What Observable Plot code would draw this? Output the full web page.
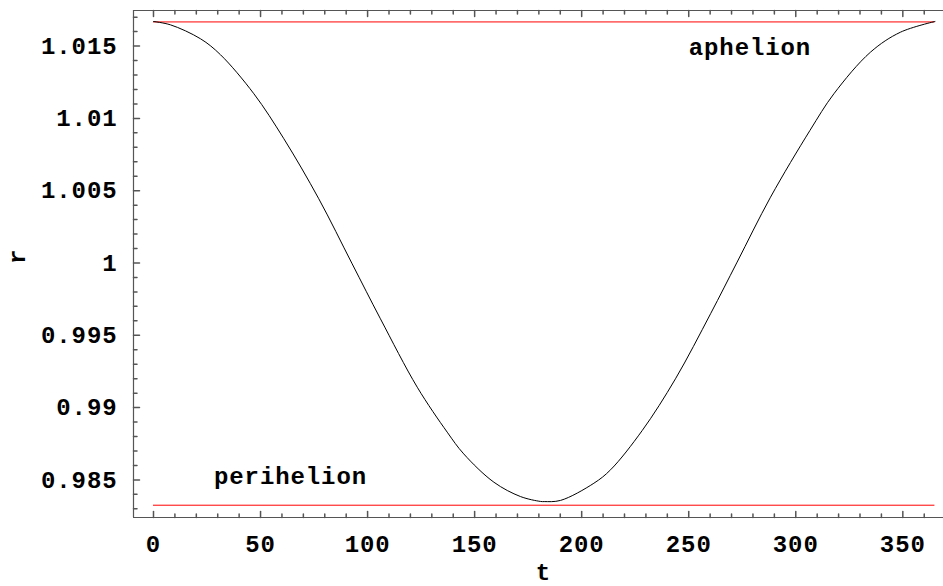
<!DOCTYPE html>
<html>
<head>
<meta charset="utf-8">
<script src="https://cdn.jsdelivr.net/npm/d3@7"></script>
<script src="https://cdn.jsdelivr.net/npm/@observablehq/plot@0.6"></script>
<style>
  html, body { margin: 0; padding: 0; background: #fff; }
</style>
</head>
<body>
<div id="chart"></div>
<script>
// Curve samples (t in days, r in AU)
const tDays = [0, 7.9, 22.0, 31.3, 46.9, 60.9, 77.2, 92.8, 106.0, 123.2, 137.2, 144.9, 159.0, 171.4, 180.8, 182.5,
  190.1, 205.7, 213.5, 228.3, 243.8, 260.2, 272.6, 288.2, 306.6, 317.8, 334.9, 348.9, 365.0];
const rValues = [1.01670, 1.01647, 1.01550, 1.01440, 1.01170, 1.00859, 1.00444, 0.99994, 0.99614, 0.99141, 0.98830, 0.98680, 0.98484, 0.98385, 0.98351, 0.98350,
  0.98358, 0.98477, 0.98570, 0.98842, 0.99199, 0.99649, 1.00006, 1.00455, 1.00916, 1.01170, 1.01458, 1.01596, 1.01670];

const aphelion = 1.01667;
const perihelion = 0.98325;
const lineStart = 0;
const lineEnd = 365;

const xMajor = [0, 50, 100, 150, 200, 250, 300, 350];
const xMinor = d3.range(0, 361, 10).filter(d => d % 50 !== 0);
const yMajor = [0.985, 0.99, 0.995, 1, 1.005, 1.01, 1.015];
const yMajorLabels = ["0.985", "0.99", "0.995", "1", "1.005", "1.01", "1.015"];
const yMinor = d3.range(983, 1018, 1).map(d => d / 1000).filter(d => !yMajor.some(m => Math.abs(m - d) < 1e-9));

const xDomain = [-9.34, 369.0];
const yDomain = [0.98240, 1.01746];

const annotations = [
  {t: 278.6, r: 1.01493, label: "aphelion"},
  {t: 64.0, r: 0.98526, label: "perihelion"}
];

const curve = tDays.map((t, i) => ({t, r: rValues[i]}));

const tickShape = {draw(ctx, l) { ctx.moveTo(0, 0); ctx.lineTo(0, -l); }};
const font = {fontFamily: "Liberation Mono", fontWeight: "bold", fontSize: 24};
const frameColor = "#555";

const plot = Plot.plot({
  width: 943,
  height: 586,
  marginLeft: 133,
  marginRight: 0,
  marginTop: 10,
  marginBottom: 69,
  style: {background: "#fff", letterSpacing: "0.9px"},
  x: {domain: xDomain, axis: null},
  y: {domain: yDomain, axis: null},
  marks: [
    // frame
    Plot.ruleY([yDomain[0], yDomain[1]], {stroke: frameColor, strokeWidth: 1.2}),
    Plot.ruleX([xDomain[0]], {stroke: frameColor, strokeWidth: 1.2}),
    // bottom ticks
    Plot.vector(xMajor, {x: d => d, y: yDomain[0], length: 6, rotate: 0, anchor: "start", shape: tickShape, stroke: frameColor}),
    Plot.vector(xMinor, {x: d => d, y: yDomain[0], length: 3.5, rotate: 0, anchor: "start", shape: tickShape, stroke: frameColor}),
    // top ticks
    Plot.vector(xMajor, {x: d => d, y: yDomain[1], length: 6, rotate: 180, anchor: "start", shape: tickShape, stroke: frameColor}),
    Plot.vector(xMinor, {x: d => d, y: yDomain[1], length: 3.5, rotate: 180, anchor: "start", shape: tickShape, stroke: frameColor}),
    // left ticks
    Plot.vector(yMajor, {y: d => d, x: xDomain[0], length: 6, rotate: 90, anchor: "start", shape: tickShape, stroke: frameColor}),
    Plot.vector(yMinor, {y: d => d, x: xDomain[0], length: 3.5, rotate: 90, anchor: "start", shape: tickShape, stroke: frameColor}),
    // tick labels
    Plot.text(xMajor, {x: d => d, frameAnchor: "bottom", dy: 27, lineAnchor: "middle", text: d => String(d), fill: "#000", ...font}),
    Plot.text(yMajor, {y: d => d, frameAnchor: "left", dx: -16, textAnchor: "end", lineAnchor: "middle", text: (d, i) => yMajorLabels[i], fill: "#000", ...font}),
    // axis labels
    Plot.text(["t"], {frameAnchor: "bottom", dx: 5, dy: 55, lineAnchor: "middle", text: d => d, fill: "#000", ...font}),
    Plot.text(["r"], {frameAnchor: "left", dx: -116, rotate: -90, lineAnchor: "middle", text: d => d, fill: "#000", ...font}),
    // aphelion / perihelion lines
    Plot.ruleY([aphelion, perihelion], {x1: lineStart, x2: lineEnd, stroke: "red", strokeWidth: 1}),
    // curve
    Plot.line(curve, {x: "t", y: "r", stroke: "#000", strokeWidth: 1, curve: "catmull-rom"}),
    // annotations
    Plot.text(annotations, {x: "t", y: "r", text: "label", lineAnchor: "middle", fill: "#000", ...font})
  ]
});

document.getElementById("chart").appendChild(plot);
</script>
</body>
</html>
